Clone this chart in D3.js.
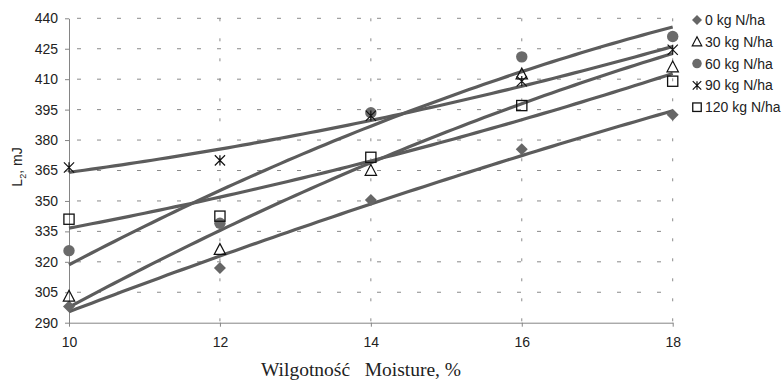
<!DOCTYPE html>
<html>
<head>
<meta charset="utf-8">
<title>L2 vs moisture</title>
<style>
  body { margin: 0; background: #fff; }
  text { font-family: 'Liberation Sans', Arial, sans-serif; }
  .xtitle { font-family: 'Liberation Serif', 'Times New Roman', serif; white-space: pre; }
</style>
<script src="https://d3js.org/d3.v7.min.js"></script>
</head>
<body>
<div id="chart"></div>
<script>
// ******* Data *******
const moisture = [10, 12, 14, 16, 18];
const xTicks = [10, 12, 14, 16, 18];
const yTicks = [290, 305, 320, 335, 350, 365, 380, 395, 410, 425, 440];
const seriesNames = ['0 kg N/ha', '30 kg N/ha', '60 kg N/ha', '90 kg N/ha', '120 kg N/ha'];
const n0   = [298, 317, 350.5, 375.5, 392.5];
const n30  = [303, 326, 365, 412.5, 416];
const n60  = [325.5, 339, 393.5, 421, 431];
const n90  = [366.5, 370, 392, 409, 424.5];
const n120 = [341, 342.5, 371.5, 397, 409];
const markers = ['diamond', 'triangle', 'circle', 'star', 'square'];

// ******* Constants *******
const width = 782, height = 383;
const plot = { left: 69, right: 672.7, top: 18.3, bottom: 322.7 };

const svg = d3.select('#chart').append('svg')
  .attr('width', width)
  .attr('height', height);

const x = d3.scaleLinear().domain([10, 18]).range([plot.left, plot.right]);
const y = d3.scaleLinear().domain([290, 440]).range([plot.bottom, plot.top]);

// grid (sparse dashes)
svg.append('g').selectAll('line')
  .data(yTicks.slice(1))
  .join('line')
  .attr('x1', plot.left + 8).attr('x2', plot.right)
  .attr('y1', d => y(d)).attr('y2', d => y(d))
  .attr('stroke', '#8a8a8a').attr('stroke-dasharray', '4,16');
svg.append('g').selectAll('line')
  .data(xTicks.slice(1))
  .join('line')
  .attr('x1', d => x(d)).attr('x2', d => x(d))
  .attr('y1', plot.top).attr('y2', plot.bottom)
  .attr('stroke', '#8a8a8a').attr('stroke-dasharray', '3,17');

// axes
const yAxis = svg.append('g')
  .attr('transform', `translate(${plot.left},0)`)
  .call(d3.axisLeft(y).tickValues(yTicks).tickSize(4).tickPadding(7).tickSizeOuter(0));
const xAxis = svg.append('g')
  .attr('transform', `translate(0,${plot.bottom})`)
  .call(d3.axisBottom(x).tickValues(xTicks).tickSize(4).tickPadding(10).tickSizeOuter(0));
[xAxis, yAxis].forEach(a => {
  a.select('.domain').attr('stroke', '#858585');
  a.selectAll('.tick line').attr('stroke', '#858585');
  a.selectAll('text').attr('font-size', 14).attr('fill', '#222')
    .attr('font-family', "'Liberation Sans', Arial, sans-serif");
});

// axis titles
svg.append('text')
  .attr('transform', 'translate(22,167) rotate(-90)')
  .attr('text-anchor', 'middle')
  .attr('font-size', 14).attr('fill', '#222')
  .call(t => {
    t.append('tspan').text('L');
    t.append('tspan').attr('font-size', 9).attr('dy', 4).text('2');
    t.append('tspan').attr('dy', -4).text(', mJ');
  });
svg.append('text')
  .attr('class', 'xtitle')
  .attr('x', 361).attr('y', 376)
  .attr('text-anchor', 'middle')
  .attr('font-size', 19.5).attr('fill', '#222')
  .text('Wilgotność   Moisture, %');

// 2nd order polynomial trend line (least squares)
function quadFit(xs, ys) {
  const n = xs.length;
  let s = [0, 0, 0, 0, 0], t = [0, 0, 0];
  for (let i = 0; i < n; i++) {
    const xi = xs[i];
    for (let k = 0; k < 5; k++) s[k] += Math.pow(xi, k);
    for (let k = 0; k < 3; k++) t[k] += ys[i] * Math.pow(xi, k);
  }
  const A = [[s[0], s[1], s[2], t[0]], [s[1], s[2], s[3], t[1]], [s[2], s[3], s[4], t[2]]];
  for (let i = 0; i < 3; i++) {
    for (let j = i + 1; j < 3; j++) {
      const f = A[j][i] / A[i][i];
      for (let k = i; k < 4; k++) A[j][k] -= f * A[i][k];
    }
  }
  const c = [0, 0, 0];
  for (let i = 2; i >= 0; i--) {
    let v = A[i][3];
    for (let k = i + 1; k < 3; k++) v -= A[i][k] * c[k];
    c[i] = v / A[i][i];
  }
  return xv => c[0] + c[1] * xv + c[2] * xv * xv;
}

const allSeries = [n0, n30, n60, n90, n120];
const line = d3.line().x(d => x(d[0])).y(d => y(d[1]));
const xs = d3.range(10, 18.001, 0.1);

allSeries.forEach(vals => {
  const f = quadFit(moisture, vals);
  svg.append('path')
    .datum(xs.map(v => [v, f(v)]))
    .attr('d', line)
    .attr('fill', 'none')
    .attr('stroke', '#5c5c5c')
    .attr('stroke-width', 3.2);
});

// marker drawing
function drawMarker(g, type, cx, cy, s) {
  if (type === 'diamond') {
    g.append('path')
      .attr('d', `M${cx},${cy - s}L${cx + s},${cy}L${cx},${cy + s}L${cx - s},${cy}Z`)
      .attr('fill', '#666');
  } else if (type === 'triangle') {
    g.append('path')
      .attr('d', `M${cx},${cy - s}L${cx + s * 0.95},${cy + s * 0.8}L${cx - s * 0.95},${cy + s * 0.8}Z`)
      .attr('fill', 'none').attr('stroke', '#111').attr('stroke-width', 1.2);
  } else if (type === 'circle') {
    g.append('circle').attr('cx', cx).attr('cy', cy).attr('r', s * 0.95)
      .attr('fill', '#6a6a6a');
  } else if (type === 'star') {
    const a = s * 0.85;
    g.append('path')
      .attr('d', `M${cx - a},${cy - a}L${cx + a},${cy + a}M${cx + a},${cy - a}L${cx - a},${cy + a}M${cx},${cy - a}L${cx},${cy + a}`)
      .attr('fill', 'none').attr('stroke', '#111').attr('stroke-width', 1.2);
  } else if (type === 'square') {
    const a = s * 0.85;
    g.append('rect').attr('x', cx - a).attr('y', cy - a).attr('width', 2 * a).attr('height', 2 * a)
      .attr('fill', 'none').attr('stroke', '#111').attr('stroke-width', 1.3);
  }
}

const pts = svg.append('g');
allSeries.forEach((vals, i) => {
  vals.forEach((v, j) => drawMarker(pts, markers[i], x(moisture[j]), y(v), 6));
});

// legend
const legend = svg.append('g');
seriesNames.forEach((name, i) => {
  const cy = 20 + i * 21.8;
  drawMarker(legend, markers[i], 697, cy, 5);
  legend.append('text')
    .attr('x', 705).attr('y', cy + 5)
    .attr('font-size', 14).attr('fill', '#222')
    .text(name);
});
</script>
</body>
</html>
